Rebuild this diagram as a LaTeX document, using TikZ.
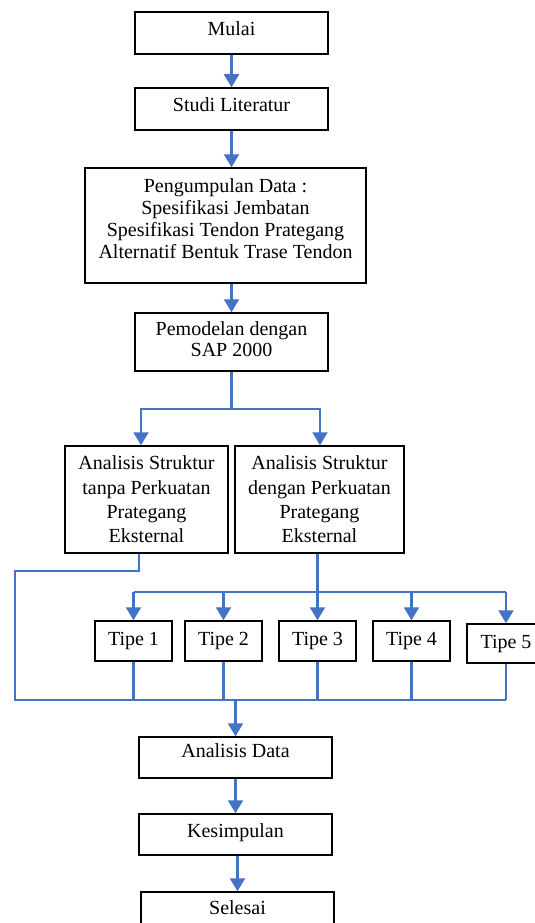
\documentclass[tikz,border=0pt]{standalone}
\usepackage{fontspec}
\setmainfont{Liberation Serif}
\usetikzlibrary{arrows.meta,calc}
\definecolor{blueC}{HTML}{4472C4}
\newcommand{\lift}[1]{\rule[-#1pt]{0pt}{#1pt}}
\begin{document}
\begin{tikzpicture}[x=1pt,y=-1pt,
  box/.style={draw=black, line width=1.5pt, inner sep=2pt, align=center,
    font=\fontsize{20}{22}\selectfont},
  line/.style={draw=blueC, line width=2.2pt},
  arr/.style={line, -{Triangle[width=15pt,length=13pt]}}]
\useasboundingbox (0,0) rectangle (535,923);
\fill[white] (0,0) rectangle (535,923);

\node[box, minimum width=193, minimum height=42] (mulai) at (231.5,33) {Mulai\lift{8}};
\node[box, minimum width=193, minimum height=42] (studi) at (231.5,109) {Studi Literatur\lift{8}};
\node[box, minimum width=281, minimum height=115] (pd) at (225.5,225.5)
  {Pengumpulan Data :\\ Spesifikasi Jembatan\\ Spesifikasi Tendon Prategang\\ Alternatif Bentuk Trase Tendon\lift{14}};
\node[box, minimum width=193, minimum height=58, font=\fontsize{20}{21}\selectfont] (pem) at (231.5,342)
  {Pemodelan dengan\\ SAP 2000\lift{5}};
\node[box, minimum width=163, minimum height=107, font=\fontsize{20}{24.3}\selectfont] (an1) at (146.5,499.5)
  {Analisis Struktur\\ tanpa Perkuatan\\ Prategang\\ Eksternal};
\node[box, minimum width=169, minimum height=107, font=\fontsize{20}{24.3}\selectfont] (an2) at (319.5,499.5)
  {Analisis Struktur\\ dengan Perkuatan\\ Prategang\\ Eksternal};
\node[box, minimum width=77, minimum height=40] (t1) at (133.5,641) {Tipe 1};
\node[box, minimum width=77, minimum height=40] (t2) at (223.5,641) {Tipe 2};
\node[box, minimum width=77, minimum height=40] (t3) at (317.5,641) {Tipe 3};
\node[box, minimum width=77, minimum height=40] (t4) at (411.5,641) {Tipe 4};
\node[box, minimum width=78, minimum height=39] (t5) at (506,643.5) {Tipe 5};
\node[box, minimum width=193, minimum height=41] (ad) at (235.5,757.5) {Analisis Data\lift{13}};
\node[box, minimum width=193, minimum height=41] (kes) at (235.5,834.5) {Kesimpulan\lift{7}};
\node[box, minimum width=193, minimum height=41] (sel) at (237.5,912.5) {Selesai\lift{9}};

% connectors
\draw[arr] (mulai) -- (studi);
\draw[arr] (studi.south) -- (studi.south |- pd.north);
\draw[arr] (pd.south -| pem.north) -- (pem.north);

\coordinate (sp) at (231.5,409);
\coordinate (sL) at (141,409);
\coordinate (sR) at (320,409);
\draw[line] (pem.south) -- (sp);
\draw[arr] (sp) -- (sL) -- (sL |- an1.north);
\draw[arr] (sp) -- (sR) -- (sR |- an2.north);

\coordinate (tb) at (317,592);
\draw[arr] (an2.south -| t3.north) -- (t3.north);
\draw[line] (t1.north |- tb) -- (t5.north |- tb);
\foreach \i in {1,2,4,5} \draw[arr] (t\i.north |- tb) -- (t\i.north);

\coordinate (k1) at (139,571);
\coordinate (k2) at (15,571);
\coordinate (k3) at (15,700);
\draw[line] (an1.south -| k1) -- (k1) -- (k2) -- (k3) -- (t5.south |- k3);
\foreach \i in {1,2,3,4,5} \draw[line] (t\i.south) -- (t\i.south |- k3);

\coordinate (mg) at (235.5,700);
\draw[arr] (mg) -- (ad.north);
\draw[arr] (ad) -- (kes);
\draw[arr] (kes.south -| sel.north) -- (sel.north);
\end{tikzpicture}
\end{document}
